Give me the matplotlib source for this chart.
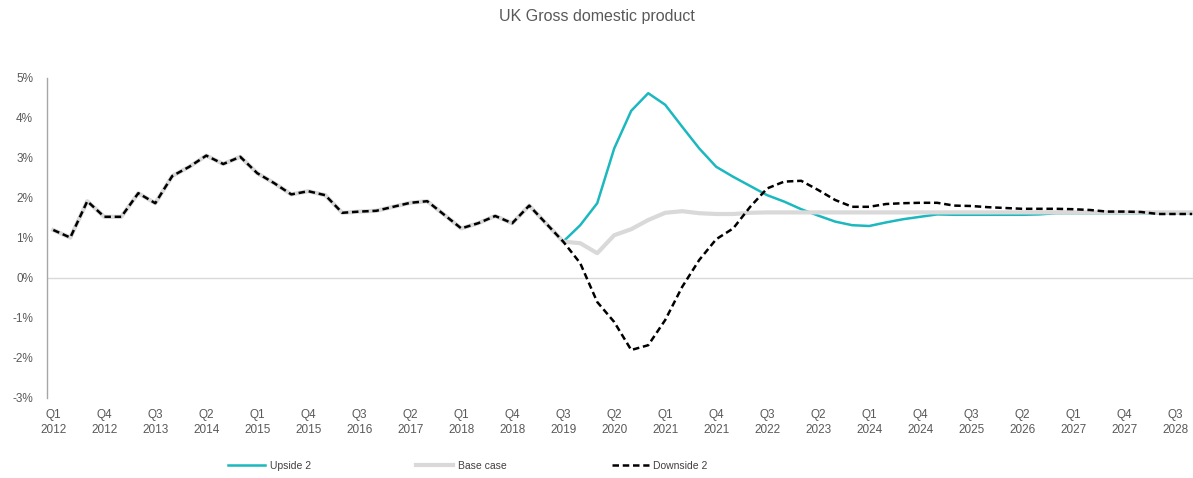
import matplotlib
matplotlib.use("Agg")
import matplotlib.pyplot as plt
from matplotlib import font_manager

plt.rcParams['font.family'] = ['Liberation Sans', 'DejaVu Sans']

# ---- data ----
history = [1.20, 1.01, 1.92, 1.53, 1.53, 2.12, 1.87, 2.55, 2.78, 3.06, 2.85, 3.03,
           2.62, 2.37, 2.09, 2.17, 2.07, 1.63, 1.66, 1.68, 1.78, 1.88, 1.92, 1.58,
           1.24, 1.37, 1.55, 1.37, 1.81, 1.36, 0.91]
upside_proj = [1.32, 1.87, 3.24, 4.18, 4.62, 4.33, 3.78, 3.24, 2.78, 2.53, 2.30,
               2.07, 1.91, 1.72, 1.56, 1.41, 1.32, 1.30, 1.39, 1.47, 1.53, 1.59,
               1.58, 1.58, 1.58, 1.58, 1.58, 1.59, 1.62, 1.62, 1.62, 1.62, 1.62,
               1.62, 1.62, 1.62, 1.62]
base_proj = [0.87, 0.62, 1.07, 1.22, 1.45, 1.63, 1.67, 1.62, 1.60, 1.60, 1.63] + [1.64] * 26
downside_proj = [0.37, -0.60, -1.10, -1.80, -1.68, -1.05, -0.22, 0.45, 0.97, 1.24,
                 1.78, 2.24, 2.41, 2.43, 2.20, 1.95, 1.78, 1.78, 1.85, 1.87, 1.88,
                 1.88, 1.81, 1.80, 1.77, 1.75, 1.73, 1.73, 1.73, 1.72, 1.70, 1.66,
                 1.66, 1.65, 1.60, 1.60, 1.60]

upside = history + upside_proj
base = history + base_proj
downside = history + downside_proj

quarters = [f"Q{q}\n{y}" for y in range(2012, 2029) for q in range(1, 5)]
n = len(upside)
x = list(range(n))
tick_idx = list(range(0, n, 3))
tick_labels = [quarters[i] for i in tick_idx]

series_names = ["Upside 2", "Base case", "Downside 2"]

# ---- figure ----
fig = plt.figure(figsize=(11.93, 4.78), dpi=100)
W, H = 1193, 478
ax = fig.add_axes([47 / W, 1 - 398 / H, (1193 - 47) / W, (398 - 78) / H])

ax.plot(x, upside, color="#1BB8BF", lw=1.8, label=series_names[0], zorder=2)
ax.plot(x, base, color="#D9D9D9", lw=3.0, label=series_names[1], zorder=3)
ax.plot(x, downside, color="black", lw=1.8, linestyle=(0, (2.6, 1.5)),
        label=series_names[2], zorder=4)

ax.set_xlim(-0.37, 67.05)
ax.set_ylim(-3, 5)
ax.set_yticks(range(-3, 6))
ax.set_yticklabels([f"{v}%" for v in range(-3, 6)])
ax.set_xticks(tick_idx)
ax.set_xticklabels(tick_labels)

ax.axhline(0, color="#D9D9D9", lw=1.0, zorder=1)

for s in ["top", "right", "bottom"]:
    ax.spines[s].set_visible(False)
ax.spines["left"].set_color("#A6A6A6")
ax.spines["left"].set_linewidth(1.0)

ax.tick_params(axis="both", length=0, colors="#595959", labelsize=8.5)
ax.tick_params(axis="y", pad=10)
ax.tick_params(axis="x", pad=8)
for lbl in ax.get_xticklabels():
    lbl.set_linespacing(1.35)

fig.text(597 / W, 1 - 17 / H, "UK Gross domestic product", ha="center", va="center",
         fontsize=11.5, color="#595959")

installed = {f.name for f in font_manager.fontManager.ttflist}
narrow = "Liberation Sans Narrow" in installed
leg_family = ["Liberation Sans Narrow", "Liberation Sans"] if narrow else ["Liberation Sans"]
leg_size = 8.5 if narrow else 7.5
colsp = 9.4 if narrow else 10.1

leg = fig.legend(loc="center left", bbox_to_anchor=(228 / W, 1 - 466 / H), ncol=3,
                 frameon=False, prop={"family": leg_family, "size": leg_size},
                 handlelength=37 / (leg_size * 100 / 72), handletextpad=0.45,
                 columnspacing=colsp, borderpad=0, borderaxespad=0)
for t in leg.get_texts():
    t.set_color("#404040")

fig.savefig("out.png", dpi=100)
